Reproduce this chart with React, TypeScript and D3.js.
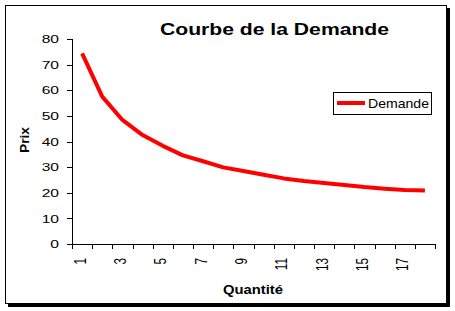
import React from "react";
import * as d3 from "d3";

const quantities = [1, 2, 3, 4, 5, 6, 7, 8, 9, 10, 11, 12, 13, 14, 15, 16, 17, 18];
const prices = [74.4, 57.5, 48.4, 42.5, 38.3, 34.6, 32.3, 29.9, 28.5, 27.0, 25.6, 24.6, 23.8, 23.0, 22.2, 21.6, 21.1, 20.9];
const yTicks = [0, 10, 20, 30, 40, 50, 60, 70, 80];
const title = "Courbe de la Demande";
const seriesName = "Demande";
const xTitle = "Quantité";
const yTitle = "Prix";

const W = 455;
const H = 311;
const FONT = "'Liberation Sans', Arial, sans-serif";

export default function App() {
  const left = 72;
  const right = 435;
  const top = 39;
  const bottom = 244;

  const x = d3
    .scaleBand<number>()
    .domain(quantities)
    .range([left, right])
    .paddingInner(0)
    .paddingOuter(0);
  const y = d3.scaleLinear().domain([0, 80]).range([bottom, top]);

  const line = d3
    .line<number>()
    .x((_, i) => (x(quantities[i]) as number) + x.bandwidth() / 2)
    .y((d) => y(d));

  const boundaries = d3.range(quantities.length + 1).map((i) => left + i * x.bandwidth());

  return (
    <svg
      width={W}
      height={H}
      style={{ position: "absolute", left: 0, top: 0, display: "block" }}
      fontFamily={FONT}
    >
      <rect x={0} y={0} width={W} height={H} fill="#ffffff" />
      {/* shadow */}
      <rect x={8} y={8} width={442} height={299} fill="#000000" />
      <rect x={5.5} y={5.5} width={441} height={298} fill="#ffffff" stroke="#000000" strokeWidth={1} />

      <text
        x={160}
        y={34.5}
        fontSize={17}
        fontWeight="bold"
        fill="#000"
        textLength={229}
        lengthAdjust="spacingAndGlyphs"
      >
        {title}
      </text>

      {/* y axis */}
      <line x1={left + 0.5} x2={left + 0.5} y1={top} y2={bottom + 0.5} stroke="#000" />
      {yTicks.map((t) => (
        <g key={t}>
          <line x1={left - 5} x2={left} y1={Math.round(y(t)) + 0.5} y2={Math.round(y(t)) + 0.5} stroke="#000" />
          <text
            transform={`translate(59,${y(t)}) scale(1.2,0.9)`}
            dy="0.36em"
            textAnchor="end"
            fontSize={13}
            fill="#000"
          >
            {t}
          </text>
        </g>
      ))}

      {/* x axis */}
      <line x1={left} x2={right + 0.5} y1={bottom + 0.5} y2={bottom + 0.5} stroke="#000" />
      {boundaries.map((b, i) => (
        <line key={i} x1={Math.round(b) + 0.5} x2={Math.round(b) + 0.5} y1={bottom} y2={bottom + 5} stroke="#000" />
      ))}
      {quantities
        .filter((q) => q % 2 === 1)
        .map((q) => {
          const cx = (x(q) as number) + x.bandwidth() / 2 - 2;
          return (
            <text
              key={q}
              transform={`translate(${cx},258) rotate(-90) scale(0.9,1.2)`}
              textAnchor="end"
              dy="0.36em"
              fontSize={13}
              fill="#000"
            >
              {q}
            </text>
          );
        })}

      <text
        x={223}
        y={294}
        fontSize={13}
        fontWeight="bold"
        fill="#000"
        textLength={60}
        lengthAdjust="spacingAndGlyphs"
      >
        {xTitle}
      </text>
      <text
        transform={`translate(29,153) rotate(-90)`}
        fontSize={13}
        fontWeight="bold"
        fill="#000"
        textLength={26}
        lengthAdjust="spacingAndGlyphs"
      >
        {yTitle}
      </text>

      <path d={line(prices) || ""} fill="none" stroke="#ff0000" strokeWidth={4} strokeLinejoin="round" />

      {/* legend */}
      <rect x={333.5} y={92.5} width={98} height={22} fill="#fff" stroke="#000" />
      <line x1={337} x2={365} y1={103} y2={103} stroke="#ff0000" strokeWidth={4} />
      <text
        x={368}
        y={107.5}
        fontSize={13}
        fill="#000"
        textLength={61}
        lengthAdjust="spacingAndGlyphs"
      >
        {seriesName}
      </text>
    </svg>
  );
}
